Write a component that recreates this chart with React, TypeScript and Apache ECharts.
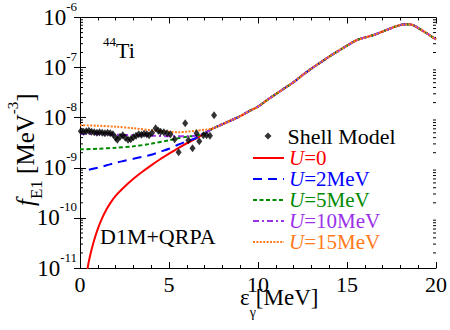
import React, { useEffect, useRef } from "react";
import * as echarts from "echarts";

const FONT = "Liberation Serif";

// Shared high-energy part of all QRPA curves (MeV, MeV^-3)
const commonEnergy = [7.5, 8, 8.5, 9, 9.5, 10, 10.5, 11, 11.5, 12, 12.5, 13, 13.5, 14, 14.5, 15, 15.5, 16, 16.5, 17, 17.5, 18, 18.3, 18.6, 19, 19.5, 20];
const commonStrength = [6.17e-9, 7.4e-9, 8.9e-9, 1.07e-8, 1.35e-8, 1.66e-8, 2.24e-8, 2.95e-8, 3.89e-8, 5.13e-8, 7.08e-8, 9.55e-8, 1.26e-7, 1.66e-7, 2.14e-7, 2.75e-7, 3.47e-7, 3.98e-7, 4.47e-7, 5.25e-7, 6.17e-7, 7.08e-7, 7.33e-7, 7.24e-7, 6.17e-7, 4.79e-7, 3.63e-7];

// Low-energy parts
const u0Energy = [0.3, 0.43, 0.55, 0.75, 1.0, 1.25, 1.5, 1.75, 2.0, 2.5, 3.0, 3.5, 4.0, 4.5, 5.0, 5.5, 6.0, 6.5, 7.0];
const u0Strength = [3.98e-12, 1.0e-11, 1.66e-11, 3.16e-11, 6.03e-11, 1.0e-10, 1.51e-10, 2.09e-10, 2.75e-10, 4.17e-10, 6.03e-10, 8.32e-10, 1.12e-9, 1.48e-9, 1.91e-9, 2.45e-9, 3.09e-9, 3.8e-9, 4.9e-9];

const u2Energy = [0.5, 1, 1.5, 2, 2.5, 3, 3.5, 4, 4.5, 5, 5.5, 6, 6.5, 7];
const u2Strength = [9.12e-10, 1.0e-9, 1.12e-9, 1.26e-9, 1.38e-9, 1.51e-9, 1.66e-9, 1.82e-9, 2.09e-9, 2.4e-9, 2.88e-9, 3.39e-9, 3.89e-9, 4.9e-9];

const u5Energy = [0, 1, 2, 3, 4, 5, 5.5, 6, 6.5, 7];
const u5Strength = [2.34e-9, 2.4e-9, 2.51e-9, 2.69e-9, 3.02e-9, 3.55e-9, 3.89e-9, 4.17e-9, 4.37e-9, 4.9e-9];

const u10Energy = [0, 1, 2, 3, 4, 5, 5.5, 6, 6.5, 7];
const u10Strength = [4.79e-9, 4.68e-9, 4.57e-9, 4.47e-9, 4.37e-9, 4.27e-9, 4.27e-9, 4.27e-9, 4.37e-9, 4.9e-9];

const u15Energy = [0, 1, 2, 3, 4, 5, 5.5, 6, 6.5, 7];
const u15Strength = [7.08e-9, 6.92e-9, 6.61e-9, 6.17e-9, 5.62e-9, 5.25e-9, 5.13e-9, 5.25e-9, 5.5e-9, 5.75e-9];

// Shell model points
const smEnergy = [0.05, 0.2, 0.35, 0.5, 0.65, 0.8, 0.95, 1.1, 1.25, 1.4, 1.55, 1.7, 1.85, 2.0, 2.1, 2.25, 2.4, 2.55, 2.7, 2.85, 3.0, 3.15, 3.3, 3.45, 3.6, 3.75, 3.88, 4.05, 4.25, 4.4, 4.53, 4.71, 4.89, 5.08, 5.32, 5.54, 5.91, 6.09, 6.32, 6.55, 6.7, 6.93, 7.11, 7.3, 7.53];
const smStrength = [5.37e-9, 5.25e-9, 5.37e-9, 5.5e-9, 5.25e-9, 5.13e-9, 5.01e-9, 5.13e-9, 5.01e-9, 4.9e-9, 5.01e-9, 4.9e-9, 4.68e-9, 3.98e-9, 3.63e-9, 4.17e-9, 4.47e-9, 3.98e-9, 3.63e-9, 3.72e-9, 4.07e-9, 4.37e-9, 4.68e-9, 4.57e-9, 4.79e-9, 4.68e-9, 4.47e-9, 5.01e-9, 6.17e-9, 5.5e-9, 5.25e-9, 5.13e-9, 4.9e-9, 4.68e-9, 3.72e-9, 2.04e-9, 7.76e-9, 3.55e-9, 2.45e-9, 4.9e-9, 3.39e-9, 4.47e-9, 4.47e-9, 4.37e-9, 1.12e-8];

const seriesNames = ["U=0", "U=2MeV", "U=5MeV", "U=10MeV", "U=15MeV"];
const seriesColors = ["#ff0000", "#0000ff", "#008a00", "#9b30e8", "#ff7a1a"];
const seriesDash: any[] = ["solid", [9, 6], [4, 2.5], [6, 3, 2, 3], [2, 1.4]];
const lowEnergies = [u0Energy, u2Energy, u5Energy, u10Energy, u15Energy];
const lowStrengths = [u0Strength, u2Strength, u5Strength, u10Strength, u15Strength];

const decades = [-11, -10, -9, -8, -7];
const minorMultipliers = [2, 3, 4, 5, 6, 7, 8, 9];

function buildCurve(e: number[], f: number[]) {
  const low = e.map((x, i) => [x, f[i]]);
  const high = commonEnergy.map((x, i) => [x, commonStrength[i]]);
  return low.concat(high);
}

export default function App() {
  const ref = useRef<HTMLDivElement>(null);
  useEffect(() => {
    const chart = echarts.init(ref.current!, null, { renderer: "svg" });

    const minorTicks: number[][] = [];
    decades.forEach((d) => minorMultipliers.forEach((m) => minorTicks.push([0, m * Math.pow(10, d)])));

    const lineSeries = seriesNames.map((name, k) => ({
      name,
      type: "line",
      data: buildCurve(lowEnergies[k], lowStrengths[k]),
      symbol: "none",
      showSymbol: false,
      smooth: 0.3,
      lineStyle: { color: seriesColors[k], width: 2, type: seriesDash[k] },
      itemStyle: { color: seriesColors[k] },
      z: 2 + k,
    }));

    const legendRich: any = {};
    seriesColors.forEach((c, k) => {
      legendRich["u" + k] = { fontFamily: FONT, fontSize: 21, fontStyle: "italic", color: c, lineHeight: 21 };
      legendRich["t" + k] = { fontFamily: FONT, fontSize: 21, color: c, lineHeight: 21 };
    });

    const option: any = {
      animation: false,
      textStyle: { fontFamily: FONT },
      grid: { left: 80, right: 9, top: 17, bottom: 62, containLabel: false },
      xAxis: [
        {
          type: "value", min: 0, max: 20, interval: 5,
          axisLine: { lineStyle: { color: "#000", width: 1 } },
          axisTick: { inside: true, length: 6, lineStyle: { color: "#000" } },
          minorTick: { show: true, splitNumber: 5, length: 3, lineStyle: { color: "#000" } },
          splitLine: { show: false },
          axisLabel: { fontFamily: FONT, fontSize: 22, color: "#000", margin: 5 },
        },
        {
          type: "value", min: 0, max: 20, interval: 5, position: "top",
          axisLine: { lineStyle: { color: "#000", width: 1 } },
          axisTick: { inside: true, length: 6, lineStyle: { color: "#000" } },
          minorTick: { show: true, splitNumber: 5, length: 3, lineStyle: { color: "#000" } },
          splitLine: { show: false },
          axisLabel: { show: false },
        },
      ],
      yAxis: [
        {
          type: "log", logBase: 10, min: 1e-11, max: 1e-6,
          axisLine: { show: true, lineStyle: { color: "#000", width: 1 } },
          axisTick: { inside: true, length: 6, lineStyle: { color: "#000" } },
          splitLine: { show: false },
          axisLabel: {
            margin: 3,
            formatter: (v: number) => `{a|10}{b|${Math.round(Math.log10(v))}}`,
            rich: {
              a: { fontFamily: FONT, fontSize: 23, color: "#000", lineHeight: 35 },
              b: { fontFamily: FONT, fontSize: 13, color: "#000", lineHeight: 13, verticalAlign: "top" },
            },
          },
        },
        {
          type: "log", logBase: 10, min: 1e-11, max: 1e-6, position: "right",
          axisLine: { show: true, lineStyle: { color: "#000", width: 1 } },
          axisTick: { inside: true, length: 6, lineStyle: { color: "#000" } },
          splitLine: { show: false },
          axisLabel: { show: false },
        },
      ],
      legend: [
        {
          data: ["Shell Model"], orient: "vertical", left: 264.5, top: 125, padding: 0,
          itemWidth: 7, itemHeight: 7, itemGap: 0, selectedMode: false,
          formatter: (name: string) => `{g|}{m|${name}}`,
          textStyle: {
            fontFamily: FONT, fontSize: 22, color: "#000", lineHeight: 22,
            rich: {
              g: { width: 11, fontSize: 22, lineHeight: 22 },
              m: { fontFamily: FONT, fontSize: 22, color: "#000", lineHeight: 22 },
            },
          },
        },
        {
          data: seriesNames, orient: "vertical", left: 252, top: 147.5, padding: 0,
          itemWidth: 31, itemHeight: 14, itemGap: 0, selectedMode: false,
          itemStyle: { opacity: 0, borderWidth: 0 },
          formatter: (name: string) => {
            const k = seriesNames.indexOf(name);
            return `{u${k}|U}{t${k}|${name.slice(1)}}`;
          },
          textStyle: { fontFamily: FONT, fontSize: 21, lineHeight: 21, rich: legendRich },
        },
      ],
      series: [
        ...lineSeries,
        {
          name: "Shell Model",
          type: "scatter",
          data: smEnergy.map((x, i) => [x, smStrength[i]]),
          symbol: "diamond",
          symbolSize: [6, 8],
          itemStyle: { color: "#000" },
          z: 10,
        },
        {
          type: "custom",
          silent: true,
          data: minorTicks,
          encode: { x: 0, y: 1 },
          clip: false,
          renderItem: (params: any, api: any) => {
            const v = api.value(1);
            const pL = api.coord([0, v]);
            const pR = api.coord([20, v]);
            return {
              type: "group",
              children: [
                { type: "line", shape: { x1: pL[0], y1: pL[1], x2: pL[0] + 3, y2: pL[1] }, style: { stroke: "#000", lineWidth: 1 } },
                { type: "line", shape: { x1: pR[0], y1: pR[1], x2: pR[0] - 3, y2: pR[1] }, style: { stroke: "#000", lineWidth: 1 } },
              ],
            };
          },
          z: 1,
        },
      ],
      graphic: [
        {
          type: "text", x: 103, y: 50,
          style: {
            text: "{s|44}{n|Ti}", fontFamily: FONT, fontSize: 22, fill: "#000",
            align: "left", verticalAlign: "middle",
            rich: {
              s: { fontFamily: FONT, fontSize: 13, fill: "#000", lineHeight: 13, verticalAlign: "top" },
              n: { fontFamily: FONT, fontSize: 22, fill: "#000", lineHeight: 30 },
            },
          },
        },
        {
          type: "text", x: 100, y: 236,
          style: { text: "D1M+QRPA", fontFamily: FONT, fontSize: 22, fill: "#000", align: "left", verticalAlign: "middle" },
        },
        // x axis title
        {
          type: "text", x: 240, y: 297,
          style: {
            text: "{e|ε}{g|γ}{n|[MeV]}", fontFamily: FONT, fontSize: 23, fill: "#000",
            align: "left", verticalAlign: "middle",
            rich: {
              e: { fontFamily: FONT, fontSize: 23, fill: "#000", lineHeight: 44 },
              g: { fontFamily: FONT, fontSize: 14, fill: "#000", lineHeight: 14, verticalAlign: "bottom" },
              n: { fontFamily: FONT, fontSize: 23, fill: "#000", lineHeight: 44 },
            },
          },
        },
        // y axis title (rotated, reading upward)
        {
          type: "text", x: 25, y: 206, rotation: Math.PI / 2,
          style: {
            text: "{i|f}{s|E1}{n| [MeV}{p|-3}{n|]}",
            fontFamily: FONT, fontSize: 25, fill: "#000",
            align: "left", verticalAlign: "middle",
            rich: {
              i: { fontFamily: FONT, fontSize: 25, fontStyle: "italic", fill: "#000", lineHeight: 40 },
              n: { fontFamily: FONT, fontSize: 25, fill: "#000", lineHeight: 40 },
              s: { fontFamily: FONT, fontSize: 17, fill: "#000", lineHeight: 17, verticalAlign: "bottom" },
              p: { fontFamily: FONT, fontSize: 15, fill: "#000", lineHeight: 15, verticalAlign: "top" },
            },
          },
        },
      ],
    };

    chart.setOption(option);
    return () => chart.dispose();
  }, []);
  return <div ref={ref} style={{ position: "absolute", left: 0, top: 0, width: 450, height: 330 }} />;
}
